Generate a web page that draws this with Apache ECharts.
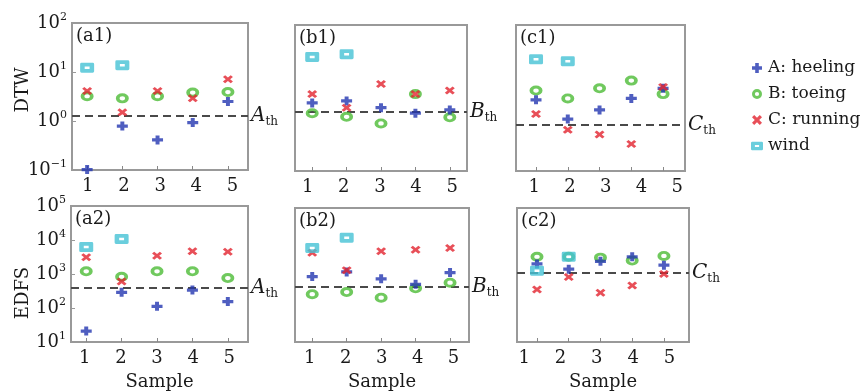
<!DOCTYPE html>
<html>
<head>
<meta charset="utf-8">
<script src="https://cdn.jsdelivr.net/npm/echarts@6/dist/echarts.min.js"></script>
<style>
html,body{margin:0;padding:0;background:#fff;}
#chart{width:867px;height:392px;}
</style>
</head>
<body>
<div id="chart"></div>
<script>
// ---- data ----
const samples = [1, 2, 3, 4, 5];
const windSamples = [1, 2];
const seriesNames = ['A: heeling', 'B: toeing', 'C: running', 'wind'];

// DTW row
const a1_heeling = [0.102, 0.79, 0.41, 0.93, 2.5];
const a1_toeing  = [3.2, 2.9, 3.2, 3.8, 3.9];
const a1_running = [4.1, 1.5, 4.1, 2.9, 7.1];
const a1_wind    = [12.2, 13.7];
const a1_th = 1.3;

const b1_heeling = [2.5, 2.75, 2.0, 1.54, 1.8];
const b1_toeing  = [1.54, 1.3, 0.95, 3.8, 1.27];
const b1_running = [3.8, 2.0, 6.1, 3.8, 4.5];
const b1_wind    = [22, 25];
const b1_th = 1.66;

const c1_heeling = [2.9, 1.17, 1.8, 3.1, 5.0];
const c1_toeing  = [4.5, 3.1, 5.0, 7.2, 3.8];
const c1_running = [1.48, 0.7, 0.56, 0.36, 5.3];
const c1_wind    = [19.7, 18];
const c1_th = 0.89;

// EDFS row
const a2_heeling = [21, 290, 112, 336, 155];
const a2_toeing  = [1200, 830, 1200, 1200, 760];
const a2_running = [3100, 600, 3450, 4650, 4500];
const a2_wind    = [6200, 10700];
const a2_th = 400;

const b2_heeling = [900, 1230, 770, 525, 1180];
const b2_toeing  = [267, 310, 210, 400, 590];
const b2_running = [4650, 1380, 5100, 5700, 6400];
const b2_wind    = [6400, 12900];
const b2_th = 445;

const c2_heeling = [2140, 1490, 2560, 3500, 1960];
const c2_toeing  = [3500, 3500, 3300, 2700, 3700];
const c2_running = [370, 870, 297, 485, 1080];
const c2_wind    = [1340, 3500];
const c2_th = 1150;

// ---- layout / style ----
const FONT = 'DejaVu Serif';
const TXT = '#1a1a1a';
const plusPath = 'path://M3.2,0H6.8V3.2H10V6.8H6.8V10H3.2V6.8H0V3.2H3.2Z';
const crossPath = 'path://M0,2.2L2.2,0L5,2.8L7.8,0L10,2.2L7.2,5L10,7.8L7.8,10L5,7.2L2.2,10L0,7.8L2.8,5Z';
const ringPath = 'path://M0,10A10,10 0 1,1 20,10A10,10 0 1,1 0,10ZM5.8,10A4.2,4.2 0 1,0 14.2,10A4.2,4.2 0 1,0 5.8,10Z';
const squarePath = 'path://M2,0H18Q20,0 20,2V12Q20,14 18,14H2Q0,14 0,12V2Q0,0 2,0ZM6.5,5.2V8.8H13.5V5.2Z';

const styles = [
  {symbol: plusPath, size: [11, 9], color: '#2336b0', z: 4},
  {symbol: ringPath, size: [13, 10], color: '#4cbb36', z: 3},
  {symbol: crossPath, size: [10, 8], color: '#e2232e', z: 5},
  {symbol: squarePath, size: [14, 10], color: '#45c2d4', z: 6}
];

const panels = [
  {label: '(a1)', th: 'A', thv: a1_th, grid: {left: 72, top: 23, width: 176, height: 147}, xr: [0.57, 5.57], lr: [0.564, 5.43], yr: [0.1, 100], showY: true, row: 1,
   data: [a1_heeling, a1_toeing, a1_running, a1_wind]},
  {label: '(b1)', th: 'B', thv: b1_th, grid: {left: 295, top: 25, width: 172, height: 146}, xr: [0.5, 5.5], lr: [0.65, 5.41], yr: [0.1, 100], showY: false, row: 1,
   data: [b1_heeling, b1_toeing, b1_running, b1_wind]},
  {label: '(c1)', th: 'C', thv: c1_th, grid: {left: 516, top: 25, width: 169, height: 146}, xr: [0.37, 5.69], lr: [0.49, 5.22], yr: [0.1, 100], showY: false, row: 1,
   data: [c1_heeling, c1_toeing, c1_running, c1_wind]},
  {label: '(a2)', th: 'A', thv: a2_th, grid: {left: 71, top: 206, width: 177, height: 144}, xr: [0.57, 5.57], lr: [0.618, 5.52], yr: [10, 100000], showY: true, row: 2,
   data: [a2_heeling, a2_toeing, a2_running, a2_wind]},
  {label: '(b2)', th: 'B', thv: b2_th, grid: {left: 295, top: 208, width: 174, height: 144}, xr: [0.5, 5.55], lr: [0.588, 5.43], yr: [10, 100000], showY: false, row: 2,
   data: [b2_heeling, b2_toeing, b2_running, b2_wind]},
  {label: '(c2)', th: 'C', thv: c2_th, grid: {left: 517, top: 208, width: 172, height: 143}, xr: [0.37, 5.79], lr: [0.8, 5.54], yr: [10, 100000], showY: false, row: 2,
   data: [c2_heeling, c2_toeing, c2_running, c2_wind]}
];

function powLabel(v) {
  const e = Math.round(Math.log10(v));
  const s = e < 0 ? '\u2212' + (-e) : String(e);
  return '{b|10}{e|' + s + '}';
}

const grids = [], xAxes = [], yAxes = [], series = [], graphics = [];

panels.forEach((p, i) => {
  grids.push(Object.assign({show: true, borderColor: '#999', borderWidth: 2, backgroundColor: 'transparent', containLabel: false}, p.grid));
  // data x axis (ticks only)
  xAxes.push({
    type: 'value', gridIndex: i, min: p.xr[0], max: p.xr[1], position: 'bottom',
    axisLine: {show: false}, splitLine: {show: false},
    axisTick: {show: true, inside: true, length: 4, customValues: samples, lineStyle: {color: '#888', width: 1}},
    axisLabel: {show: false}
  });
  // label x axis
  xAxes.push({
    type: 'value', gridIndex: i, min: p.lr[0], max: p.lr[1], position: 'bottom',
    axisLine: {show: false}, splitLine: {show: false}, axisTick: {show: false},
    axisLabel: {show: true, customValues: samples, fontFamily: FONT, fontSize: 18, color: TXT, margin: 7},
    name: p.row === 2 ? 'Sample' : '', nameLocation: 'middle', nameGap: 31,
    nameTextStyle: {fontFamily: FONT, fontSize: 18, color: TXT}
  });
  yAxes.push({
    type: 'log', logBase: 10, gridIndex: i, min: p.yr[0], max: p.yr[1],
    axisLine: {show: false}, splitLine: {show: false},
    axisTick: {show: p.showY, inside: true, length: 4, lineStyle: {color: '#999'}},
    minorTick: {show: false},
    axisLabel: {
      show: p.showY, margin: 5, formatter: powLabel, color: TXT,
      rich: {
        b: {fontFamily: FONT, fontSize: 18, color: TXT},
        e: {fontFamily: FONT, fontSize: 11, color: TXT, padding: [0, 0, 11, 0]}
      }
    }
  });
  p.data.forEach((vals, k) => {
    const st = styles[k];
    const xs = k === 3 ? windSamples : samples;
    const s = {
      type: 'scatter', name: seriesNames[k], xAxisIndex: 2 * i, yAxisIndex: i,
      data: xs.map((x, j) => [x, vals[j]]),
      symbol: st.symbol, symbolSize: st.size, itemStyle: {color: st.color},
      z: st.z, clip: false, silent: true
    };
    if (k === 0) {
      s.markLine = {
        silent: true, symbol: ['none', 'none'], z: 2,
        data: [{yAxis: p.thv}],
        lineStyle: {type: [8, 5], color: '#4a4a4a', width: 1.8},
        label: {
          show: true, position: 'end', distance: 3,
          formatter: '{i|' + p.th + '}{s|th}',
          rich: {
            i: {fontFamily: FONT, fontStyle: 'italic', fontSize: 20, color: TXT},
            s: {fontFamily: FONT, fontSize: 12, color: TXT, padding: [12, 0, 0, 0]}
          }
        }
      };
    }
    series.push(s);
  });
  graphics.push({
    type: 'text', left: p.grid.left + 4, top: p.grid.top + 4,
    style: {text: p.label, font: '18px "DejaVu Serif"', fill: TXT}
  });
});

graphics.push({type: 'text', x: 23, y: 90, rotation: Math.PI / 2,
  style: {text: 'DTW', font: '18px "DejaVu Serif"', fill: TXT, align: 'center', verticalAlign: 'middle'}});
graphics.push({type: 'text', x: 23, y: 293, rotation: Math.PI / 2,
  style: {text: 'EDFS', font: '18px "DejaVu Serif"', fill: TXT, align: 'center', verticalAlign: 'middle'}});

const chart = echarts.init(document.getElementById('chart'), null, {renderer: 'canvas'});
chart.setOption({
  animation: false,
  backgroundColor: '#fff',
  grid: grids, xAxis: xAxes, yAxis: yAxes, series: series,
  legend: {
    orient: 'vertical', left: 746, top: 54, itemGap: 8, itemWidth: 12, itemHeight: 10,
    data: seriesNames.map((n, k) => ({name: n, icon: styles[k].symbol})),
    textStyle: {fontFamily: FONT, fontSize: 17, color: TXT, lineHeight: 18}
  },
  graphic: graphics
});
</script>
</body>
</html>
